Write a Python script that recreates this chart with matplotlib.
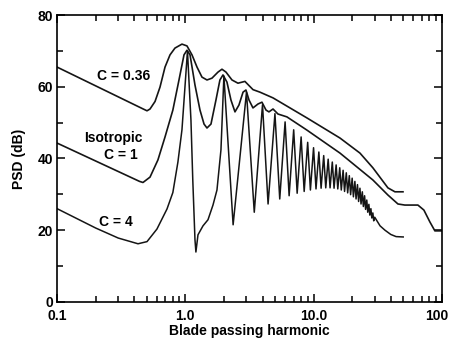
import numpy as np
import matplotlib
matplotlib.use('Agg')
import matplotlib.pyplot as plt
from matplotlib.ticker import FixedLocator, LogLocator, NullFormatter, MultipleLocator
from matplotlib.transforms import ScaledTranslation

plt.rcParams['font.family'] = ['Liberation Sans', 'DejaVu Sans']
plt.rcParams['font.weight'] = 'bold'

# C = 0.36 curve
c036_x = [0.1, 0.47, 0.503, 0.531, 0.581, 0.635, 0.695, 0.760, 0.831, 0.942, 1.031, 1.128, 1.234,
          1.349, 1.476, 1.614, 1.799, 1.932, 2.076, 2.312, 2.574, 2.917, 3.373, 3.821, 4.83,
          8.89, 16.07, 23.0, 29.0, 38.0, 43.1, 49.8]
c036_y = [65.5, 53.8, 53.3, 53.8, 55.9, 59.9, 65.5, 68.9, 70.8, 71.9, 71.4, 68.9, 65.5,
          62.7, 61.9, 62.4, 64.1, 64.9, 64.1, 61.9, 61.0, 61.5, 59.2, 58.5, 56.9,
          51.3, 45.7, 41.5, 37.4, 31.8, 30.7, 30.7]

# isotropic C = 1 curve
c1_x = [0.1, 0.44, 0.468, 0.531, 0.612, 0.695, 0.800, 0.893, 0.977, 1.031, 1.089, 1.19, 1.302,
        1.40, 1.476, 1.586, 1.734, 1.862, 1.967, 2.113, 2.27, 2.44, 2.62, 2.82, 2.97,
        3.14, 3.37, 3.69, 3.96, 4.26, 4.49, 4.83, 5.28, 6.2, 8.89, 16.07, 29.0, 38.0,
        45.5, 51.5, 65.1, 72.5, 80.7, 88.3, 100.0]
c1_y = [44.3, 33.6, 33.3, 34.8, 39.6, 46.0, 53.5, 61.9, 68.9, 70.2, 68.9, 60.5, 53.5,
        49.6, 48.5, 49.6, 56.3, 61.9, 63.3, 61.3, 56.3, 53.0, 54.9, 58.5, 59.1,
        56.3, 54.1, 55.2, 55.7, 53.5, 53.0, 53.8, 52.4, 51.6, 47.9, 41.5, 34.0, 29.8,
        27.3, 27.0, 27.0, 25.6, 22.3, 19.8, 19.8]

# C = 4 curve: low-frequency part, harmonic peaks, troughs between them, tail
c4_low_x = [0.1, 0.2, 0.3, 0.428, 0.503, 0.601, 0.72, 0.80, 0.876, 0.942, 0.99, 1.107, 1.144, 1.19,
            1.256, 1.374, 1.503, 1.644, 1.766, 1.897]
c4_low_y = [26.0, 20.6, 17.8, 16.2, 16.8, 20.3, 25.9, 30.5, 39.0, 48.0, 59.0, 50.7, 34.0, 17.3,
            18.7, 21.2, 22.9, 27.0, 31.2, 42.4]
c4_peak_x = [1.04, 2, 3, 4, 5, 6, 7, 8, 9, 10, 11, 12, 13, 14, 15, 16, 17, 18, 19, 20,
             21, 22, 23, 24, 25, 26, 27, 28, 29, 30]
c4_peak_y = [70.0, 63.0, 58.5, 55.0, 52.5, 50.2, 48.0, 46.0, 44.5, 43.0, 41.8, 40.8,
             39.8, 39.0, 38.2, 37.4, 36.7, 36.0, 35.2, 34.5, 33.6, 32.7, 31.7, 30.7,
             29.6, 28.4, 27.2, 26.0, 24.8, 23.6]
c4_trough_x = [1.21, 2.36, 3.45, 4.42, 5.45, 6.45, 7.45, 8.45, 9.45, 10.45, 11.45, 12.45,
               13.45, 14.45, 15.45, 16.45, 17.45, 18.45, 19.45, 20.45, 21.45, 22.45,
               23.45, 24.45, 25.45, 26.45, 27.45, 28.45, 29.45]
c4_trough_y = [13.9, 21.5, 25.0, 27.3, 28.7, 29.6, 30.3, 30.8, 31.2, 31.5, 31.7, 31.8,
               31.8, 31.7, 31.5, 31.2, 30.8, 30.4, 29.9, 29.3, 28.7, 28.0, 27.3, 26.6,
               25.8, 25.0, 24.2, 23.4, 22.6]
c4_tail_x = [33, 36, 40, 44, 50]
c4_tail_y = [21.2, 20.0, 18.8, 18.2, 18.1]

c4_x = np.concatenate([c4_low_x, c4_peak_x, c4_trough_x, c4_tail_x])
c4_y = np.concatenate([c4_low_y, c4_peak_y, c4_trough_y, c4_tail_y])
order = np.argsort(c4_x)
c4_x, c4_y = c4_x[order], c4_y[order]

fig = plt.figure(figsize=(4.49, 3.43), dpi=100)
ax = fig.add_axes([0.127, 0.12, 0.857, 0.836])

lc = '#151515'
ax.plot(c036_x, c036_y, color=lc, lw=1.2)
ax.plot(c1_x, c1_y, color=lc, lw=1.2)
ax.plot(c4_x, c4_y, color=lc, lw=1.1)

ax.set_xscale('log')
ax.set_xlim(0.1, 100)
ax.set_ylim(0, 80)

ax.xaxis.set_major_locator(FixedLocator([0.1, 1, 10, 100]))
ax.set_xticklabels(['0.1', '1.0', '10.0', '100'])
ax.xaxis.set_minor_locator(LogLocator(base=10, subs=np.arange(2, 10)))
ax.xaxis.set_minor_formatter(NullFormatter())
ax.yaxis.set_major_locator(MultipleLocator(20))
ax.yaxis.set_minor_locator(MultipleLocator(10))

ax.tick_params(which='both', direction='in', top=True, right=True, labelsize=10, width=1.1)
ax.tick_params(which='major', length=6)
ax.tick_params(which='minor', length=4)
ax.tick_params(axis='x', which='major', pad=5)
ax.tick_params(axis='y', which='major', pad=3)
for lab in ax.get_xticklabels() + ax.get_yticklabels():
    lab.set_fontweight('bold')
# the last x label sits a little inside the edge
last = ax.get_xticklabels()[-1]
last.set_transform(last.get_transform() + ScaledTranslation(-0.05, 0, fig.dpi_scale_trans))
for s in ax.spines.values():
    s.set_linewidth(1.2)

ax.set_xlabel('Blade passing harmonic', fontsize=10, fontweight='bold', labelpad=1)
ax.set_ylabel('PSD (dB)', fontsize=10, fontweight='bold', labelpad=8)

ax.text(0.333, 63, 'C = 0.36', fontsize=10, fontweight='bold', ha='center', va='center')
ax.text(0.273, 45.7, 'Isotropic', fontsize=10, fontweight='bold', ha='center', va='center')
ax.text(0.315, 41, 'C = 1', fontsize=10, fontweight='bold', ha='center', va='center')
ax.text(0.288, 22.3, 'C = 4', fontsize=10, fontweight='bold', ha='center', va='center')

plt.savefig('out.png', dpi=100)
